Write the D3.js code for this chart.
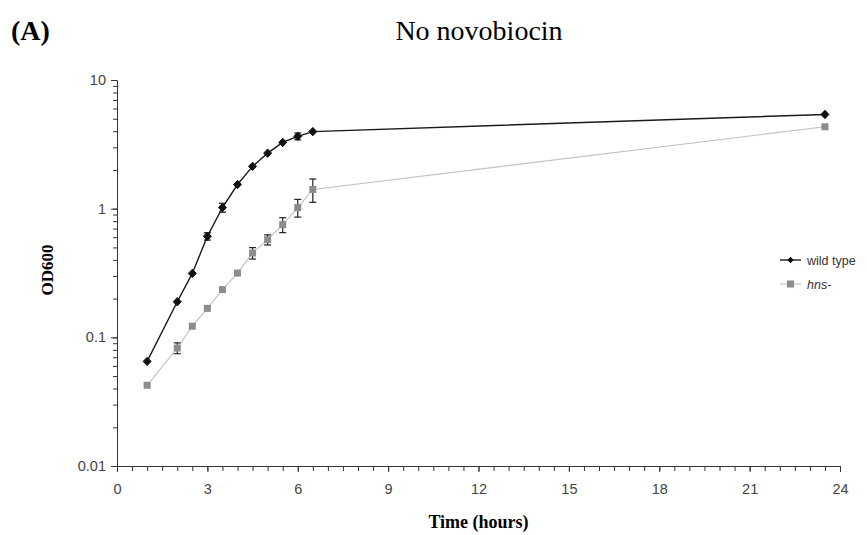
<!DOCTYPE html>
<html>
<head>
<meta charset="utf-8">
<script src="https://cdn.jsdelivr.net/npm/d3@7"></script>
<style>
  body { margin: 0; background: #fff; }
  svg { display: block; }
</style>
</head>
<body>
<div class="canvas"></div>
<script>
// time points (hours)
const timeWT = [1, 2, 2.5, 3, 3.5, 4, 4.5, 5, 5.5, 6, 6.5, 23.5];
const odWT = [0.065, 0.189, 0.314, 0.61, 1.02, 1.54, 2.13, 2.7, 3.27, 3.65, 3.97, 5.4];
const errWT = [0.002, 0.004, 0.008, 0.04, 0.08, 0.03, 0.05, 0.06, 0.07, 0.22, 0.08, 0.1];

const timeHns = [1, 2, 2.5, 3, 3.5, 4, 4.5, 5, 5.5, 6, 6.5, 23.5];
const odHns = [0.0424, 0.0826, 0.122, 0.168, 0.235, 0.316, 0.452, 0.574, 0.751, 1.02, 1.41, 4.33];
const errHns = [0.001, 0.008, 0.002, 0.003, 0.004, 0.005, 0.046, 0.052, 0.1, 0.16, 0.29, 0.06];

const xTicks = [0, 3, 6, 9, 12, 15, 18, 21, 24];
const yTicks = [0.01, 0.1, 1, 10];
const seriesNames = ['wild type', 'hns-'];

const width = 867, height = 535;
const margin = { top: 80, right: 27, bottom: 69, left: 117 };
const graphWidth = width - margin.left - margin.right;
const graphHeight = height - margin.top - margin.bottom;

const svg = d3.select('.canvas')
  .append('svg')
    .attr('width', width)
    .attr('height', height);

// titles
svg.append('text')
  .attr('x', 11).attr('y', 40)
  .style('font-family', '"Liberation Serif", serif')
  .style('font-weight', 'bold')
  .style('font-size', '28px')
  .text('(A)');

svg.append('text')
  .attr('x', 479).attr('y', 40)
  .attr('text-anchor', 'middle')
  .style('font-family', '"Liberation Serif", serif')
  .style('font-size', '28px')
  .text('No novobiocin');

const graph = svg.append('g')
  .attr('transform', `translate(${margin.left}, ${margin.top})`);

const x = d3.scaleLinear().domain([0, 24]).range([0, graphWidth]);
const y = d3.scaleLog().domain([0.01, 10]).range([graphHeight, 0]);

const tickFont = g => g.selectAll('text')
  .style('font-family', '"Liberation Sans", Arial, sans-serif')
  .style('font-size', '14.5px')
  .attr('fill', '#444');

// x axis: minor ticks every half hour
const xMinor = d3.range(0, 24.01, 0.5);
const xAxisGroup = graph.append('g')
  .attr('transform', `translate(0, ${graphHeight})`);
xAxisGroup.call(d3.axisBottom(x).tickValues(xMinor).tickSize(5).tickFormat(''));
xAxisGroup.call(g => g.select('.domain').remove());
xAxisGroup.append('g')
  .call(d3.axisBottom(x).tickValues(xTicks).tickSize(6).tickPadding(12).tickFormat(d3.format('d')))
  .call(tickFont);

// y axis: log minors
const yMinor = [];
[0.01, 0.1, 1].forEach(dec => { for (let k = 1; k <= 9; k++) yMinor.push(dec * k); });
yMinor.push(10);
const yAxisGroup = graph.append('g');
yAxisGroup.call(d3.axisLeft(y).tickValues(yMinor).tickSize(4).tickFormat(''));
yAxisGroup.call(g => g.select('.domain').remove());
yAxisGroup.append('g')
  .call(d3.axisLeft(y).tickValues(yTicks).tickSize(6).tickPadding(5).tickFormat(d => d3.format('')(d)))
  .call(tickFont);

graph.selectAll('.tick line').attr('stroke', '#333');
graph.selectAll('.domain').attr('stroke', '#333');

// axis labels
svg.append('text')
  .attr('transform', `translate(53, 270) rotate(-90)`)
  .attr('text-anchor', 'middle')
  .style('font-family', '"Liberation Serif", serif')
  .style('font-weight', 'bold')
  .style('font-size', '17px')
  .text('OD600');

svg.append('text')
  .attr('x', margin.left + x(12)).attr('y', 528)
  .attr('text-anchor', 'middle')
  .style('font-family', '"Liberation Serif", serif')
  .style('font-weight', 'bold')
  .style('font-size', '18px')
  .text('Time (hours)');

// data tables
const wt = timeWT.map((t, i) => ({ t: t, v: odWT[i], e: errWT[i] }));
const hns = timeHns.map((t, i) => ({ t: t, v: odHns[i], e: errHns[i] }));

const line = d3.line().x(d => x(d.t)).y(d => y(d.v));

// hns- series (behind)
graph.append('path').datum(hns)
  .attr('fill', 'none').attr('stroke', '#c2c2c2').attr('stroke-width', 1.2)
  .attr('d', line);

graph.append('path').datum(wt)
  .attr('fill', 'none').attr('stroke', '#1a1a1a').attr('stroke-width', 1.4)
  .attr('d', line);

// error bars
function errorBars(data, colour) {
  const g = graph.append('g');
  data.forEach(d => {
    const top = y(d.v + d.e), bot = y(d.v - d.e);
    if (bot - top < 5) return;
    g.append('line').attr('x1', x(d.t)).attr('x2', x(d.t)).attr('y1', top).attr('y2', bot)
      .attr('stroke', colour).attr('stroke-width', 1.2);
    [top, bot].forEach(yy => {
      g.append('line').attr('x1', x(d.t) - 3.5).attr('x2', x(d.t) + 3.5).attr('y1', yy).attr('y2', yy)
        .attr('stroke', colour).attr('stroke-width', 1.2);
    });
  });
}
errorBars(hns, '#222');
errorBars(wt, '#111');

// markers
graph.selectAll('.sq').data(hns).enter().append('rect')
  .attr('x', d => x(d.t) - 3.5).attr('y', d => y(d.v) - 3.5)
  .attr('width', 7).attr('height', 7)
  .attr('fill', '#8c8c8c');

const diamond = 'M0,-4.2L4,0L0,4.2L-4,0Z';
graph.selectAll('.dm').data(wt).enter().append('path')
  .attr('transform', d => `translate(${x(d.t)}, ${y(d.v)})`)
  .attr('d', diamond)
  .attr('fill', '#111')
  .attr('stroke', '#111').attr('stroke-width', 1).attr('stroke-linejoin', 'round');

// legend
const legend = svg.selectAll('.legend')
  .data(seriesNames)
  .enter().append('g')
  .attr('class', 'legend')
  .attr('transform', (d, i) => `translate(780, ${260 + i * 24})`);

legend.append('line')
  .attr('x1', 0).attr('x2', 21).attr('y1', 0).attr('y2', 0)
  .attr('stroke', (d, i) => i === 0 ? '#1a1a1a' : '#c2c2c2')
  .attr('stroke-width', (d, i) => i === 0 ? 1.4 : 1.2);

legend.filter((d, i) => i === 0).append('path')
  .attr('transform', 'translate(10.5, 0) scale(0.8)')
  .attr('d', diamond).attr('fill', '#111');
legend.filter((d, i) => i === 1).append('rect')
  .attr('x', 7).attr('y', -3.5).attr('width', 7).attr('height', 7)
  .attr('fill', '#8c8c8c');

legend.append('text')
  .attr('x', 27).attr('y', 4.5)
  .style('font-family', '"Liberation Sans", Arial, sans-serif')
  .style('font-size', '12.5px')
  .style('font-style', (d, i) => i === 1 ? 'italic' : 'normal')
  .attr('fill', '#333')
  .text(d => d);
</script>
</body>
</html>
